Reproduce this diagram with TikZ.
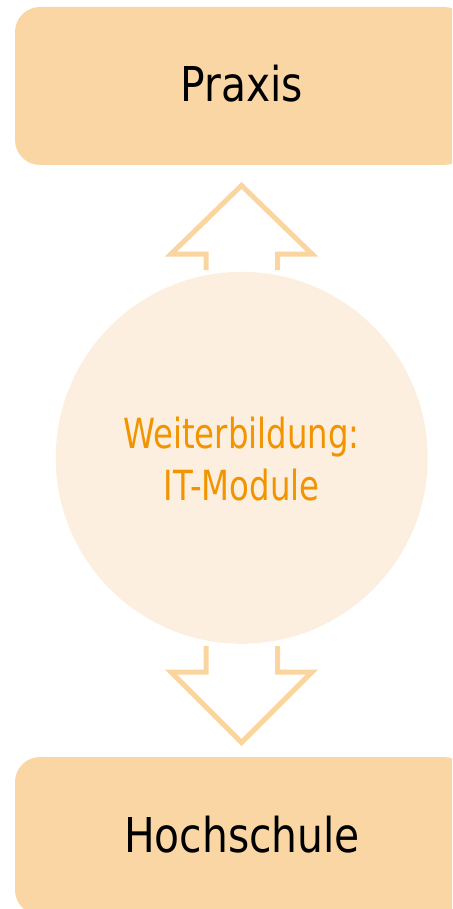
\documentclass[tikz,border=0pt]{standalone}
\usepackage{fontspec}
\setmainfont{DejaVu Sans}[FakeStretch=0.85]
\newfontfamily\centerfont{DejaVu Sans}[FakeStretch=0.78]
\definecolor{boxfill}{HTML}{FAD6A5}
\definecolor{arrowline}{HTML}{FAD5A0}
\definecolor{circfill}{HTML}{FDEFE0}
\definecolor{orangetxt}{HTML}{F29400}
\begin{document}
\begin{tikzpicture}[x=1pt,y=-1pt,
  boxstyle/.style={draw=none,fill=boxfill,rounded corners=25pt,minimum width=454pt,minimum height=158pt,inner sep=0pt},
  boxtext/.style={anchor=base,inner sep=0pt,font=\fontsize{48pt}{58pt}\selectfont,text=black},
  blockarrow/.style={draw=arrowline,line width=5pt,miter limit=10,fill=none},
  circstyle/.style={circle,fill=circfill,draw=none,minimum size=372pt,inner sep=0pt}
]
\useasboundingbox (0,0) rectangle (452,909);
\clip (0,0) rectangle (452,909);
\node[boxstyle] (praxisbox) at (242,86) {};
\node[boxstyle] (hsbox) at (242,836) {};
\node[boxtext] (praxis) at (242,102) {Praxis};
\node[boxtext] (hs) at (242,852) {Hochschule};
\node[circstyle] (wb) at (241.7,457.8) {};
\node[anchor=base,inner sep=0pt,text=orangetxt,font=\centerfont\fontsize{41.5pt}{52pt}\selectfont] (wbt1) at (241.5,448) {Weiterbildung:};
\node[anchor=base,inner sep=0pt,text=orangetxt,font=\centerfont\fontsize{41.5pt}{52pt}\selectfont] (wbt2) at (241.5,500) {IT-Module};
% up arrow
\draw[blockarrow] (206,270) -- (206,254) -- (171,254) -- (241.5,185.5) -- (312,254) -- (277.5,254) -- (277.5,270);
% down arrow
\draw[blockarrow] (206,646) -- (206,672) -- (171,672) -- (241.5,742.5) -- (312,672) -- (277.5,672) -- (277.5,646);
\end{tikzpicture}
\end{document}
